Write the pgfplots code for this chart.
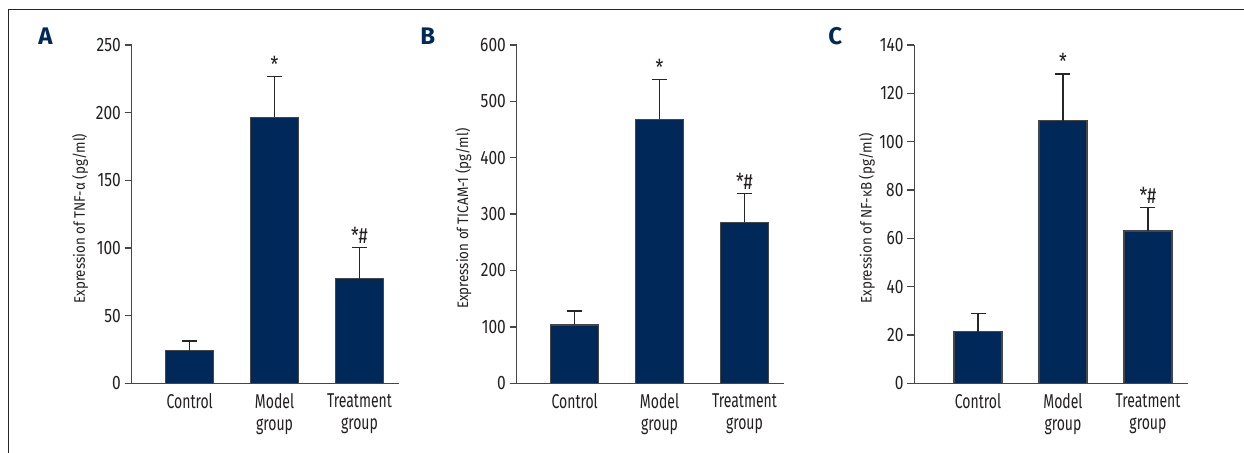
\documentclass[border=0pt]{standalone}
\usepackage{fontspec}
\setmainfont{Fira Sans}[FakeStretch=0.7]
\newfontfamily\tickfont{Fira Sans}[FakeStretch=0.8]
\newfontfamily\plainfont{Fira Sans}
\newfontfamily\labelfont{Fira Sans}[FakeStretch=0.88]
\usepackage{pgfplots}
\pgfplotsset{compat=1.18}
\usepackage{pgfplotstable}
\definecolor{navy}{RGB}{0,41,89}
\definecolor{edge}{RGB}{70,70,70}
\definecolor{txt}{RGB}{35,31,32}

\pgfplotstableread{
x y e
0 24.1 7.2
1 196.5 30.2
2 77.3 22.9
}\dataA
\pgfplotstableread{
x y e
0 103.4 24.8
1 468.0 71.5
2 285.5 51.4
}\dataB
\pgfplotstableread{
x y e
0 21.4 7.6
1 108.7 19.3
2 63.0 9.7
}\dataC

\tikzset{
  starlbl/.style={anchor=base, inner sep=0pt, yshift=2pt, font=\tickfont\fontsize{11}{12}\selectfont, text=txt},
  panellbl/.style={anchor=base west, inner sep=0pt, text=navy, font=\plainfont\bfseries\fontsize{12}{14}\selectfont},
}
\pgfplotsset{
  panel/.style={
    scale only axis, anchor=south west,
    height=169.15pt,
    axis x line=bottom, axis y line=left,
    axis line style={-, edge, line width=0.65pt},
    ymin=0,
    xtick={0,1,2},
    xticklabels={Control, Model\\group, Treatment\\group},
    xticklabel style={align=center, font=\fontsize{10}{11}\selectfont, text=txt, yshift=2pt},
    xtick style={draw=none},
    tick align=outside, major tick length=3.5pt,
    ytick style={edge, line width=0.65pt},
    yticklabel style={font=\tickfont\fontsize{9.7}{11}\selectfont, text=txt, xshift=1.6pt},
    /pgf/number format/assume math mode=true,
    ylabel style={font=\labelfont\fontsize{7.6}{9}\selectfont, text=txt, anchor=center},
    ybar, bar width=24pt,
  },
  bars/.style={fill=navy, draw=edge, line width=0.6pt,
    error bars/.cd, y dir=plus, y explicit,
    error bar style={draw=black!85, line width=0.6pt},
    error mark options={rotate=90, draw=black!85, mark size=3.75pt, line width=0.6pt}},
}

\begin{document}
\begin{tikzpicture}
\useasboundingbox (0pt,0pt) rectangle (622pt,226.5pt);
\draw[line width=0.5pt, black!85] (4pt,0pt) -- (4pt,221.5pt) -- (622pt,221.5pt);

\node[panellbl] at (19pt,204pt) {A};
\node[panellbl] at (210pt,204pt) {B};
\node[panellbl] at (414pt,204pt) {C};

\begin{axis}[panel, at={(65.85pt,34.85pt)}, width=133.8pt,
  xmin=-0.683, xmax=2.469, ymax=250, ytick={0,50,...,250},
  ylabel={Expression of TNF-α (pg/ml)},
  ylabel style={at={(axis description cs:-0.193,0.487)}}]
\addplot[bars] table[x=x, y=y, y error=e] {\dataA};
\node[starlbl] at (axis cs:1,226.7) {*};
\node[starlbl] at (axis cs:2,100.2) {*\#};
\end{axis}

\begin{axis}[panel, at={(258.35pt,34.85pt)}, width=133.8pt,
  xmin=-0.683, xmax=2.469, ymax=600, ytick={0,100,...,600},
  ylabel={Expression of TICAM-1 (pg/ml)},
  ylabel style={at={(axis description cs:-0.1996,0.487)}}]
\addplot[bars] table[x=x, y=y, y error=e] {\dataB};
\node[starlbl] at (axis cs:1,539.5) {*};
\node[starlbl] at (axis cs:2,336.9) {*\#};
\end{axis}

\begin{axis}[panel, at={(457.15pt,34.85pt)}, width=136.7pt,
  xmin=-0.75, xmax=2.468, ymax=140, ytick={0,20,...,140},
  ylabel={Expression of NF-κB (pg/ml)},
  ylabel style={at={(axis description cs:-0.174,0.487)}}]
\addplot[bars] table[x=x, y=y, y error=e] {\dataC};
\node[starlbl] at (axis cs:1,128.0) {*};
\node[starlbl] at (axis cs:2,72.7) {*\#};
\end{axis}
\end{tikzpicture}
\end{document}
